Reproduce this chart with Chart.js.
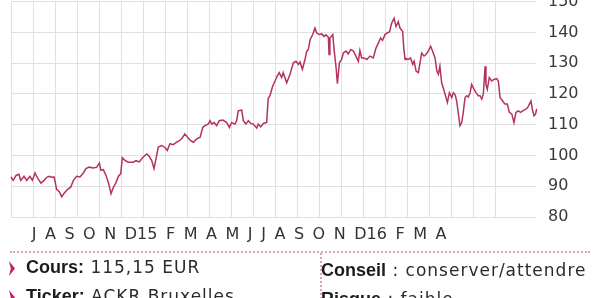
<!DOCTYPE html>
<html>
<head>
<meta charset="utf-8">
<script src="https://cdn.jsdelivr.net/npm/chart.js@4"></script>
<style>
  body { margin: 0; background: #fff; width: 597px; height: 298px; overflow: hidden; position: relative; }
  #wrap { position: absolute; left: 0; top: -20px; }
  .info { position: absolute; white-space: nowrap; color: #2b2b2b; font-family: "DejaVu Sans", sans-serif; font-size: 17px; letter-spacing: 1px; }
  .info b { font-family: "Liberation Sans", Arial, sans-serif; font-weight: bold; font-size: 18px; letter-spacing: 0; color: #1c1c1c; }
  .mark { position: absolute; width: 6px; height: 15px; background: #c41f63; clip-path: polygon(0 0, 100% 50%, 0 100%, 30% 50%); }
  .hline { position: absolute; left: 10px; top: 251px; width: 580px; border-top: 2px dotted #dba3b8; }
  .vline { position: absolute; left: 320px; top: 253px; height: 46px; border-left: 2px dotted #dba3b8; }
</style>
</head>
<body>
<div id="wrap"><canvas id="cours" width="597" height="280"></canvas></div>
<div class="hline"></div>
<div class="vline"></div>
<div class="mark" style="left:9px; top:261px"></div>
<div class="info" style="left:26px; top:257px"><b>Cours:</b> 115,15 EUR</div>
<div class="mark" style="left:9px; top:290px"></div>
<div class="info" style="left:26px; top:286px"><b>Ticker:</b> ACKR Bruxelles</div>
<div class="info" style="left:321px; top:260px"><b>Conseil</b> : conserver/attendre</div>
<div class="info" style="left:321px; top:289px"><b>Risque</b> : faible</div>
<script>
// months since 1 June 2014
const months = [
    0.00, 0.10, 0.23, 0.36, 0.44, 0.59, 0.71, 0.86, 0.97, 1.09, 1.21, 1.36, 1.50, 1.62, 1.74, 1.85,
    1.96, 2.07, 2.19, 2.30, 2.42, 2.57, 2.71, 2.83, 2.98, 3.13, 3.28, 3.40, 3.55, 3.73, 3.89, 4.01,
    4.08, 4.19, 4.31, 4.41, 4.54, 4.64, 4.76, 4.87, 4.98, 5.05, 5.17, 5.32, 5.55, 5.67, 5.82, 6.00,
    6.16, 6.26, 6.38, 6.49, 6.61, 6.68, 6.84, 6.99, 7.09, 7.21, 7.36, 7.52, 7.64, 7.75, 7.89, 8.04,
    8.15, 8.27, 8.43, 8.58, 8.70, 8.80, 8.95, 9.03, 9.11, 9.21, 9.33, 9.45, 9.61, 9.79, 9.91, 10.01,
    10.16, 10.24, 10.31, 10.47, 10.54, 10.66, 10.77, 10.88, 10.99, 11.15, 11.22, 11.33, 11.45, 11.60, 11.67, 11.75,
    11.87, 11.98, 12.08, 12.17, 12.28, 12.35, 12.51, 12.66, 12.81, 12.93, 13.04, 13.11, 13.22, 13.34, 13.42, 13.49,
    13.57, 13.69, 13.79, 13.87, 13.99, 14.10, 14.20, 14.29, 14.40, 14.43, 14.47, 14.60, 14.66, 14.75, 14.81, 14.90,
    15.00, 15.08, 15.20, 15.30, 15.41, 15.53, 15.65, 15.76, 15.83, 15.91, 16.02, 16.14, 16.29, 16.44, 16.56, 16.67,
    16.77, 16.86, 16.97, 17.07, 17.18, 17.27, 17.38, 17.47, 17.57, 17.65, 17.77, 17.82, 17.88, 17.92, 18.03, 18.13,
    18.23, 18.29, 18.38, 18.48, 18.56, 18.63, 18.74, 18.83, 18.93, 19.04, 19.13, 19.24, 19.32, 19.39, 19.46, 19.54,
    19.65, 19.74, 19.80, 19.89, 20.00, 20.07, 20.15, 20.22, 20.30, 20.37, 20.45, 20.52, 20.60, 20.68, 20.75, 20.83,
    20.90, 21.01, 21.10, 21.20, 21.28, 21.36, 21.43, 21.51, 21.55, 21.61, 21.70, 21.81, 21.91, 22.04, 22.11, 22.19,
    22.31, 22.41, 22.52, 22.61, 22.72, 22.82, 22.91, 23.02, 23.12, 23.22, 23.32, 23.43, 23.52, 23.59, 23.67, 23.73,
    23.80, 23.85
]
const prices = [
    93.0, 91.9, 93.5, 93.9, 91.9, 93.2, 91.9, 93.2, 91.9, 94.3, 92.6, 91.0, 91.9, 92.9, 93.2, 92.9,
    93.0, 89.0, 88.2, 86.6, 87.8, 89.0, 89.7, 91.9, 93.2, 93.0, 94.3, 95.7, 96.2, 95.9, 96.2, 97.5,
    95.2, 95.4, 93.5, 91.4, 87.6, 89.6, 91.1, 93.2, 94.1, 99.3, 98.4, 97.8, 97.8, 98.3, 97.9, 99.5,
    100.5, 99.8, 98.4, 95.7, 100.0, 102.7, 103.2, 102.6, 101.6, 103.8, 103.5, 104.3, 104.8, 105.5, 107.0, 105.7,
    104.8, 104.3, 105.4, 105.9, 109.1, 109.7, 110.2, 111.3, 110.2, 110.7, 109.7, 111.3, 111.5, 110.7, 109.1, 110.7,
    110.2, 111.3, 114.5, 114.7, 111.3, 110.2, 111.3, 110.4, 110.2, 108.9, 110.2, 109.3, 110.4, 110.7, 118.5, 119.4,
    122.5, 124.2, 125.8, 126.9, 125.3, 126.9, 123.6, 126.4, 130.1, 130.6, 129.6, 130.4, 128.0, 131.2, 133.9, 134.4,
    137.6, 139.3, 141.4, 139.8, 139.3, 139.5, 138.7, 139.2, 138.4, 132.8, 138.2, 139.3, 134.4, 128.5, 123.3, 130.1,
    131.2, 133.3, 133.9, 133.0, 134.4, 134.0, 132.3, 130.6, 134.1, 131.7, 131.7, 131.2, 132.3, 131.7, 134.9, 136.5,
    138.2, 137.4, 139.3, 139.8, 140.2, 143.0, 144.6, 141.9, 143.5, 141.4, 140.3, 134.9, 131.2, 131.5, 131.2, 131.7,
    129.6, 130.6, 127.4, 126.9, 130.1, 133.3, 132.3, 132.8, 133.9, 135.5, 133.9, 131.7, 127.4, 126.4, 129.0, 123.6,
    121.0, 118.8, 117.2, 120.4, 118.8, 120.4, 119.8, 117.7, 113.5, 109.7, 110.7, 114.0, 118.8, 119.4, 119.0, 120.4,
    123.1, 121.5, 120.4, 119.4, 119.4, 118.3, 119.9, 129.0, 123.1, 121.5, 125.3, 124.2, 124.7, 125.0, 124.2, 118.8,
    117.7, 116.7, 116.7, 114.0, 113.5, 110.7, 114.0, 114.5, 114.0, 114.5, 114.9, 115.4, 116.7, 117.7, 114.5, 112.9,
    113.4, 115.15
]
const monthLabels = ['J', 'A', 'S', 'O', 'N', 'D15', 'F', 'M', 'A', 'M', 'J', 'J', 'A', 'S', 'O', 'N', 'D16', 'F', 'M', 'A']
const yMin = 80
const yMax = 150
const yStep = 10

const labelFont = { family: 'DejaVu Sans', size: 16 }
const plotWidth = 525
const monthWidth = 22.04

// the month letters are set like tracked text, D15 / D16 take more room
function layoutLabels(scale) {
    const ctx = scale.ctx
    ctx.save()
    ctx.font = labelFont.size + 'px "' + labelFont.family + '"'
    const w = monthLabels.map(l => ctx.measureText(l).width)
    ctx.restore()
    const first = 23, last = 430
    let span = 0
    for (let i = 1; i < w.length; i++) span += (w[i - 1] + w[i]) / 2
    const gap = (last - first - span) / (w.length - 1)
    let pos = first
    const ticks = [{ value: pos }]
    for (let i = 1; i < w.length; i++) {
        pos += (w[i - 1] + w[i]) / 2 + gap
        ticks.push({ value: pos })
    }
    scale.ticks = ticks
}

new Chart(document.getElementById('cours'), {
    type: 'line',
    data: {
        datasets: [{
            data: months.map((m, i) => ({ x: m, y: prices[i] })),
            borderColor: '#b3325f',
            borderWidth: 1.5,
            pointRadius: 0,
            tension: 0,
            clip: false,
        }]
    },
    options: {
        responsive: false,
        animation: false,
        layout: { padding: { left: 11, top: 20, right: 0, bottom: 15 } },
        plugins: { legend: { display: false }, tooltip: { enabled: false } },
        scales: {
            x: {
                type: 'linear',
                position: 'bottom',
                min: 0,
                max: plotWidth / monthWidth,
                grid: { color: '#e0e0e0', lineWidth: 1, drawTicks: false },
                border: { display: false },
                ticks: { display: false, stepSize: 1 },
                afterBuildTicks: s => { s.ticks = s.ticks.filter(t => Number.isInteger(t.value)) },
                afterFit: s => { s.height = 0 },
            },
            xl: {
                type: 'linear',
                position: 'bottom',
                min: 0,
                max: plotWidth,
                grid: { display: false },
                border: { display: false },
                afterBuildTicks: layoutLabels,
                ticks: {
                    autoSkip: false,
                    maxRotation: 0,
                    padding: 0,
                    color: '#333',
                    font: labelFont,
                    callback: (v, i) => monthLabels[i],
                },
                afterFit: s => { s.height = 28 },
            },
            y: {
                position: 'right',
                min: yMin,
                max: yMax,
                grid: { color: '#e0e0e0', lineWidth: 1, drawTicks: false },
                border: { display: false },
                ticks: {
                    stepSize: yStep,
                    padding: 12,
                    color: '#3a3a3a',
                    font: { family: 'DejaVu Sans', size: 16 },
                },
                afterFit: s => { s.width = 61 },
            }
        }
    }
})
</script>
</body>
</html>
